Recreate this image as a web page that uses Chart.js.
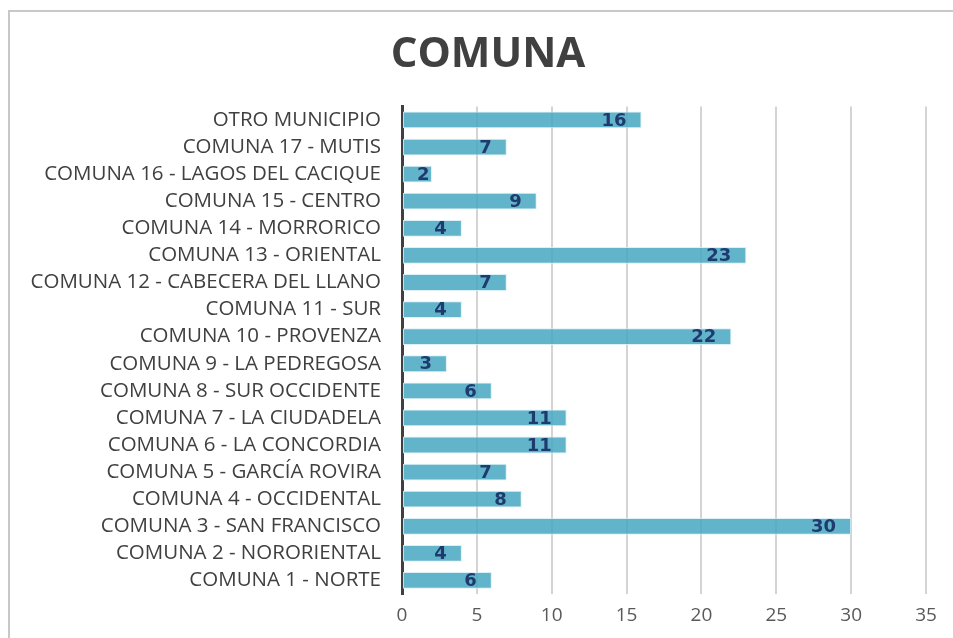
<!DOCTYPE html>
<html>
<head>
<meta charset="utf-8">
<script src="https://cdn.jsdelivr.net/npm/chart.js@4"></script>
<style>
  html, body { margin: 0; padding: 0; background: #fff; overflow: hidden; width: 953px; height: 638px; }
  #frame { position: absolute; left: 8px; top: 10px; width: 958px; height: 640px;
           border-top: 2px solid #c8c8c8; border-left: 2px solid #c8c8c8; }
  #wrap { position: absolute; left: 0; top: 0; width: 958px; height: 626px; }
</style>
</head>
<body>
<div id="frame"><div id="wrap"><canvas id="c"></canvas></div></div>
<script>
const titleText = 'COMUNA';
const categories = [
  'OTRO MUNICIPIO',
  'COMUNA 17 - MUTIS',
  'COMUNA 16 - LAGOS DEL CACIQUE',
  'COMUNA 15 - CENTRO',
  'COMUNA 14 - MORRORICO',
  'COMUNA 13 - ORIENTAL',
  'COMUNA 12 - CABECERA DEL LLANO',
  'COMUNA 11 - SUR',
  'COMUNA 10 - PROVENZA',
  'COMUNA 9 - LA PEDREGOSA',
  'COMUNA 8 - SUR OCCIDENTE',
  'COMUNA 7 - LA CIUDADELA',
  'COMUNA 6 - LA CONCORDIA',
  'COMUNA 5 - GARCÍA ROVIRA',
  'COMUNA 4 - OCCIDENTAL',
  'COMUNA 3 - SAN FRANCISCO',
  'COMUNA 2 - NORORIENTAL',
  'COMUNA 1 - NORTE'
];
const values = [16, 7, 2, 9, 4, 23, 7, 4, 22, 3, 6, 11, 11, 7, 8, 30, 4, 6];
const xTicks = [0, 5, 10, 15, 20, 25, 30, 35];

const labelPlugin = {
  id: 'barLabels',
  afterDatasetsDraw(chart) {
    const ctx = chart.ctx;
    const meta = chart.getDatasetMeta(0);
    ctx.save();
    ctx.font = 'bold 18px "DejaVu Sans"';
    ctx.fillStyle = '#1f3b6e';
    ctx.textBaseline = 'middle';
    ctx.textAlign = 'left';
    meta.data.forEach((bar, i) => {
      const txt = String(values[i]);
      const w = ctx.measureText(txt).width;
      let left = bar.x - 15 - w;
      const minLeft = bar.base + 14;
      if (left < minLeft) left = minLeft;
      ctx.fillText(txt, left, bar.y + 1);
    });
    ctx.restore();
  }
};

new Chart(document.getElementById('c'), {
  type: 'bar',
  data: {
    labels: categories,
    datasets: [{
      data: values,
      backgroundColor: 'rgba(70,167,194,0.85)',
      borderColor: 'rgba(214,238,245,0.9)',
      borderWidth: 1,
      borderSkipped: false,
      categoryPercentage: 1,
      barPercentage: 0.62,
      xAxisID: 'x',
      yAxisID: 'y'
    }]
  },
  options: {
    indexAxis: 'y',
    responsive: true,
    maintainAspectRatio: false,
    animation: false,
    layout: { padding: { top: 18, right: 2, bottom: 10, left: 0 } },
    plugins: {
      legend: { display: false },
      tooltip: { enabled: false },
      title: {
        display: true,
        text: titleText,
        color: '#404040',
        font: { family: '"Open Sans"', size: 42, weight: 'bold' },
        padding: { top: 0, bottom: 26 }
      }
    },
    scales: {
      x: {
        type: 'linear',
        min: 0,
        max: 35,
        afterBuildTicks(scale) { scale.ticks = xTicks.map(v => ({ value: v })); },
        ticks: {
          color: '#595959',
          font: { family: '"Open Sans"', size: 19 },
          padding: 10
        },
        grid: { color: '#d4d4d4', lineWidth: 2, drawTicks: false },
        border: { display: false },
        afterFit(scale) { scale.height = 34; }
      },
      y: {
        type: 'category',
        position: 'left',
        ticks: {
          color: '#404040',
          font: { family: '"Open Sans"', size: 20.5 },
          padding: 21,
          autoSkip: false
        },
        grid: { display: false, drawTicks: false },
        border: { display: true, color: '#404040', width: 3 },
        afterFit(scale) { scale.width = 392; }
      },
      yRight: {
        type: 'linear',
        position: 'right',
        display: true,
        ticks: { display: false },
        grid: { display: false, drawTicks: false },
        border: { display: false },
        afterFit(scale) { scale.width = 40; }
      }
    }
  },
  plugins: [labelPlugin]
});
</script>
</body>
</html>
